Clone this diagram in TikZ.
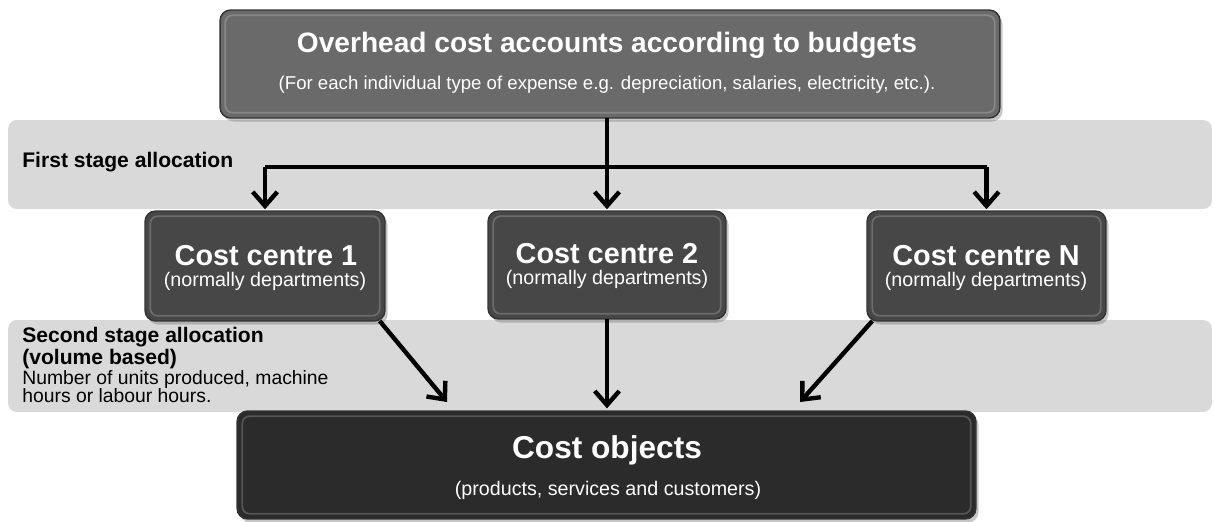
\documentclass[tikz,border=0pt]{standalone}
\usepackage{fontspec}
\setmainfont{Liberation Sans}
\usetikzlibrary{arrows.meta,shadows}
\definecolor{bandgray}{HTML}{D9D9D9}
\definecolor{topgray}{HTML}{6A6A6A}
\definecolor{ccgray}{HTML}{474747}
\definecolor{cogray}{HTML}{2B2B2B}
\begin{document}
\begin{tikzpicture}[x=0.02cm,y=-0.02cm,
  band/.style={fill=bandgray,rounded corners=5pt,draw=none,inner sep=0pt,outer sep=0pt},
  box/.style={rounded corners=6pt,draw=black!80,line width=0.8pt,inner sep=0pt,outer sep=0pt,
    drop shadow={shadow xshift=1.5pt,shadow yshift=-2pt,opacity=0.45}},
  bevel/.style={draw=white,opacity=0.2,line width=1pt,rounded corners=4pt},
  wtxt/.style={text=white,inner sep=0pt,align=center},
  btxt/.style={text=black,inner sep=0pt,align=left},
  conn/.style={line width=2.5pt,black},
  arr/.style={conn,-{Straight Barb[length=8pt,width=14pt,line width=2.5pt]}},
]
\useasboundingbox (0,0) rectangle (1214,521);

% bands
\node[band,minimum width=24.08cm,minimum height=1.78cm] (band1) at (610,164.5) {};
\node[band,minimum width=24.08cm,minimum height=1.84cm] (band2) at (610,366) {};

% boxes
\node[box,fill=topgray,minimum width=15.6cm,minimum height=2.16cm] (top) at (610,64) {};
\node[box,fill=ccgray,minimum width=4.8cm,minimum height=2.2cm] (cc1) at (265,266) {};
\node[box,fill=ccgray,minimum width=4.76cm,minimum height=2.16cm] (cc2) at (607,265) {};
\node[box,fill=ccgray,minimum width=4.78cm,minimum height=2.2cm] (ccN) at (986.5,266) {};
\node[box,fill=cogray,minimum width=14.78cm,minimum height=2.16cm] (co) at (606.5,465) {};

\foreach \b in {top,cc1,cc2,ccN,co}{
  \draw[bevel] ([shift={(3pt,-3pt)}]\b.north west) rectangle ([shift={(-3pt,3pt)}]\b.south east);
}

% texts
\node[wtxt,font=\bfseries\fontsize{16}{19}\selectfont] (toptitle) at (607,45) {Overhead cost accounts according to budgets};
\node[wtxt,font=\fontsize{10.6}{12}\selectfont] (topsub) at (607,85) {(For each individual type of expense e.g. depreciation, salaries, electricity, etc.).};

\node[wtxt,font=\bfseries\fontsize{16.4}{19}\selectfont] (cc1title) at (266,256) {Cost centre 1};
\node[wtxt,font=\fontsize{11.2}{13}\selectfont] (cc1sub) at (265,281) {(normally departments)};
\node[wtxt,font=\bfseries\fontsize{16.4}{19}\selectfont] (cc2title) at (607,254) {Cost centre 2};
\node[wtxt,font=\fontsize{11.2}{13}\selectfont] (cc2sub) at (607,279) {(normally departments)};
\node[wtxt,font=\bfseries\fontsize{16.4}{19}\selectfont] (ccNtitle) at (986,256) {Cost centre N};
\node[wtxt,font=\fontsize{11.2}{13}\selectfont] (ccNsub) at (986,281) {(normally departments)};

\node[wtxt,font=\bfseries\fontsize{18}{21}\selectfont] (cotitle) at (607,450) {Cost objects};
\node[wtxt,font=\fontsize{11.2}{13}\selectfont] (cosub) at (608,490) {(products, services and customers)};

\node[btxt,anchor=west,font=\bfseries\fontsize{12}{14}\selectfont] (l1) at (22,162) {First stage allocation};
\node[btxt,anchor=north west,font=\fontsize{11}{10.3}\selectfont] (l2) at (22,327)
  {{\bfseries\fontsize{12}{10.3}\selectfont Second stage allocation}\\
   {\bfseries\fontsize{12}{10.3}\selectfont (volume based)}\\
   Number of units produced, machine\\
   hours or labour hours.};

% connectors
\coordinate (junc) at (607,167);
\draw[conn] (top.south -| cc2.north) -- (junc);
\draw[conn] (junc -| cc1.north) -- (junc -| ccN.north);
\draw[arr] (junc -| cc1.north) -- ([yshift=1pt]cc1.north);
\draw[arr] (junc) -- ([yshift=1pt]cc2.north);
\draw[arr] (junc -| ccN.north) -- ([yshift=1pt]ccN.north);

\coordinate (t1) at (447,402);
\coordinate (t3) at (800,402);
\draw[arr] ([xshift=-3pt]cc1.south east) -- (t1);
\draw[arr] (cc2.south) -- ([yshift=1.5pt]cc2.south |- co.north);
\draw[arr] ([xshift=3pt]ccN.south west) -- (t3);
\end{tikzpicture}
\end{document}
